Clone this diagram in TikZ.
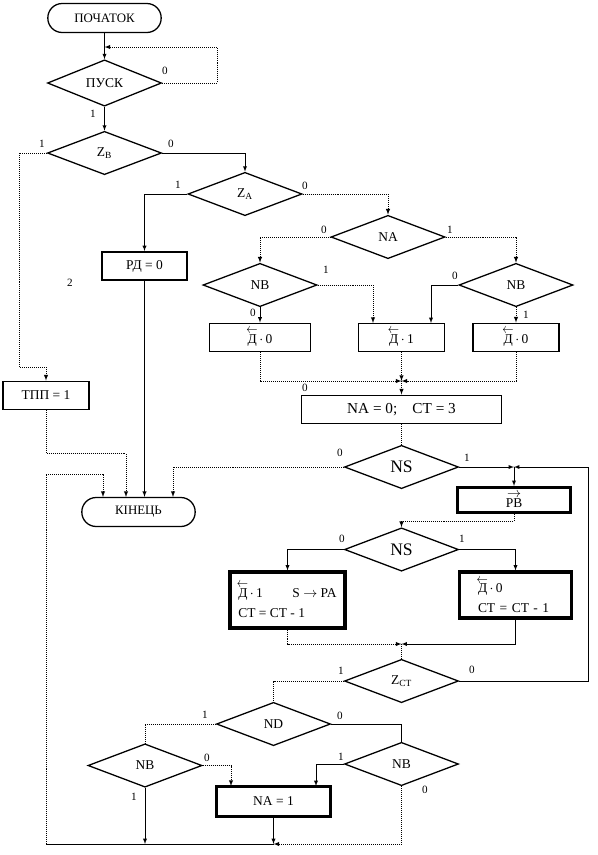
\documentclass[tikz,border=0pt]{standalone}
\usepackage{fontspec}
\setmainfont{Liberation Serif}
\usetikzlibrary{shapes.geometric}
\newcommand{\Dlt}{\mbox{\makebox[0pt][l]{\hspace{-0.1em}\raisebox{0.72em}{\scalebox{0.8}[1]{$\leftarrow$}}}Д}}
\newcommand{\Prb}{\mbox{\makebox[0pt][l]{\hspace{0.1em}\raisebox{0.72em}{$\rightarrow$}}PB}}
\begin{document}
\begin{tikzpicture}[x=0.03cm,y=-0.03cm,>=latex,
                    font=\fontsize{11.5}{13.5}\selectfont,
                    term/.style={draw,line width=1.1pt,rounded corners=0.43cm,minimum width=3.4cm,minimum height=0.87cm,font=\fontsize{11}{13}\selectfont},
                    cond/.style={draw,diamond,line width=1.1pt,minimum width=3.42cm,minimum height=1.3cm,inner sep=0pt},
                    blk/.style={draw,line width=1.3pt,minimum height=0.85cm,inner sep=2pt},
                    blkb/.style={draw,line width=2.6pt,inner sep=2pt},
                    ln/.style={line width=0.6pt},
                    dl/.style={line width=0.7pt,densely dotted},
                    lbl/.style={font=\fontsize{9.5}{11}\selectfont,inner sep=0pt}]
                    \useasboundingbox (0,0) rectangle (598,855);
                    \node[term] (start) at (104.5,18) {ПОЧАТОК};
                    \node[cond] (pusk) at (104.5,83) {ПУСК};
                    \node[cond] (zb) at (104.5,153) {Z\textsubscript{B}};
                    \node[cond] (za) at (245,194) {Z\textsubscript{A}};
                    \node[blk,minimum width=2.55cm] (rd) at (144.5,266) {РД = 0};
                    \node[blk,minimum width=2.58cm] (tpp) at (46,395.5) {ТПП = 1};
                    \node[cond] (na) at (388,237) {NA};
                    \node[cond] (nba) at (260,285) {NB};
                    \node[cond] (nbb) at (516,285) {NB};
                    \node[blk,minimum width=3.03cm] (da) at (260,337.5) {\Dlt$\,\cdot\,$0};
                    \node[blk,minimum width=2.58cm] (db) at (401.5,337.5) {\Dlt$\,\cdot\,$1};
                    \node[blk,minimum width=2.58cm] (dc) at (516,337.5) {\Dlt$\,\cdot\,$0};
                    \node[blk,minimum width=6cm,font=\fontsize{13}{15}\selectfont] (na0) at (401.5,409.5) {NA = 0;\quad CT = 3};
                    \node[cond,font=\fontsize{15}{17}\selectfont] (nsa) at (401.5,467) {NS};
                    \node[term] (end) at (138.5,512) {КІНЕЦЬ};
                    \node[blkb,minimum width=3.4cm,minimum height=0.75cm] (pb) at (514,500) {\Prb};
                    \node[cond,font=\fontsize{15}{17}\selectfont] (nsb) at (401.5,549.5) {NS};
                    \node[blkb,minimum width=3.45cm,minimum height=1.68cm,align=left] (bl) at (287.5,600) {\Dlt$\,\cdot\,$1\hspace{2.2em}S $\rightarrow$ PA\\[4pt] CT = CT - 1};
                    \node[blkb,minimum height=1.38cm,align=left,text width=2.25cm,inner xsep=0.55cm] (br) at (515.5,595) {\Dlt$\,\cdot\,$0\\[3pt] CT = CT - 1};
                    \node[cond] (zct) at (401.5,681) {Z\textsubscript{CT}};
                    \node[cond] (nd) at (273.5,724) {ND};
                    \node[cond] (nbc) at (145,765.5) {NB};
                    \node[cond] (nbd) at (401.5,764) {NB};
                    \node[blkb,minimum width=3.4cm,minimum height=0.88cm] (na1) at (273.5,801.5) {NA = 1};
                    \coordinate (j0) at (104.5,47);
                    \coordinate (m1) at (401.5,381);
                    \coordinate (m2) at (514,467);
                    \coordinate (m3) at (401.5,644);
                    \coordinate (dbl) at (373,323);
                    \coordinate (dbr) at (431,323);
                    \coordinate (nal) at (231,786);
                    \coordinate (nar) at (316,786);
                    \coordinate (b1) at (145,844);
                    \coordinate (b2) at (273.5,844);
                    \coordinate (c1) at (46,844);
                    \coordinate (e1) at (103,497);
                    \coordinate (e2) at (126,497);
                    \coordinate (e4) at (173,497);
                    \draw[ln,->] (start.south) -- (pusk.north);
                    \draw[dl,->] (pusk.east) -- ++(55,0) |- (j0);
                    \draw[ln,->] (pusk.south) -- (zb.north);
                    \draw[dl,->] (zb.west) -| (19,367) -| (tpp.north);
                    \draw[ln,->] (zb.east) -| (za.north);
                    \draw[ln,->] (za.west) -| (rd.north);
                    \draw[dl,->] (za.east) -| (na.north);
                    \draw[dl,->] (na.west) -| (nba.north);
                    \draw[dl,->] (na.east) -| (nbb.north);
                    \draw[ln,->] (nba.south) -- (da.north);
                    \draw[dl,->] (nba.east) -| (dbl);
                    \draw[ln,->] (nbb.west) -| (dbr);
                    \draw[dl,->] (nbb.south) -- (dc.north);
                    \draw[dl,->] (da.south) |- (m1);
                    \draw[dl,->] (dc.south) |- (m1);
                    \draw[dl,->] (db.south) -- (m1);
                    \draw[dl,->] (m1) -- (na0.north);
                    \draw[dl] (na0.south) -- (nsa.north);
                    \draw[dl,->] (nsa.west) -| (e4);
                    \draw[ln,->] (nsa.east) -- (m2);
                    \draw[ln,->] (zct.east) -| (588,467) -- (m2);
                    \draw[ln,->] (m2) -- (pb.north);
                    \draw[dl,->] (pb.south) -- ++(0,7) -| (nsb.north);
                    \draw[ln,->] (nsb.west) -| (bl.north);
                    \draw[ln,->] (nsb.east) -| (br.north);
                    \draw[dl,->] (bl.south) |- (m3);
                    \draw[ln,->] (br.south) |- (m3);
                    \draw[dl] (m3) -- (zct.north);
                    \draw[dl] (zct.west) -| (nd.north);
                    \draw[dl] (nd.west) -| (nbc.north);
                    \draw[ln] (nd.east) -| (nbd.north);
                    \draw[dl,->] (nbc.east) -| (nal);
                    \draw[ln,->] (nbd.west) -| (nar);
                    \draw[ln,->] (nbc.south) -- (b1);
                    \draw[ln,->] (na1.south) -- (b2);
                    \draw[dl,->] (nbd.south) |- (b2);
                    \draw[ln] (b2) -- (c1);
                    \draw[dl,->] (c1) |- (103,474) -- (e1);
                    \draw[dl,->] (tpp.south) -- ++(0,43) -| (e2);
                    \draw[ln,->] (rd.south) -- (rd.south |- end.north);
                    \node[lbl] (t1) at (165,71) {0};
                    \node[lbl] (t2) at (93,114) {1};
                    \node[lbl] (t3) at (42,144) {1};
                    \node[lbl] (t4) at (171,144) {0};
                    \node[lbl] (t5) at (178,185) {1};
                    \node[lbl] (t6) at (305,186) {0};
                    \node[lbl] (t7) at (70,283) {2};
                    \node[lbl] (t8) at (324,230) {0};
                    \node[lbl] (t9) at (450,230) {1};
                    \node[lbl] (t10) at (326,270) {1};
                    \node[lbl] (t11) at (253,313) {0};
                    \node[lbl] (t12) at (455,276) {0};
                    \node[lbl] (t13) at (526,315) {1};
                    \node[lbl] (t14) at (305,388) {0};
                    \node[lbl] (t15) at (340,453) {0};
                    \node[lbl] (t16) at (467,458) {1};
                    \node[lbl] (t17) at (342,539) {0};
                    \node[lbl] (t18) at (462,539) {1};
                    \node[lbl] (t19) at (341,671) {1};
                    \node[lbl] (t20) at (472,670) {0};
                    \node[lbl] (t21) at (205,715) {1};
                    \node[lbl] (t22) at (340,716) {0};
                    \node[lbl] (t23) at (207,758) {0};
                    \node[lbl] (t24) at (134,797) {1};
                    \node[lbl] (t25) at (341,757) {1};
                    \node[lbl] (t26) at (425,790) {0};
                \end{tikzpicture}
\end{document}
